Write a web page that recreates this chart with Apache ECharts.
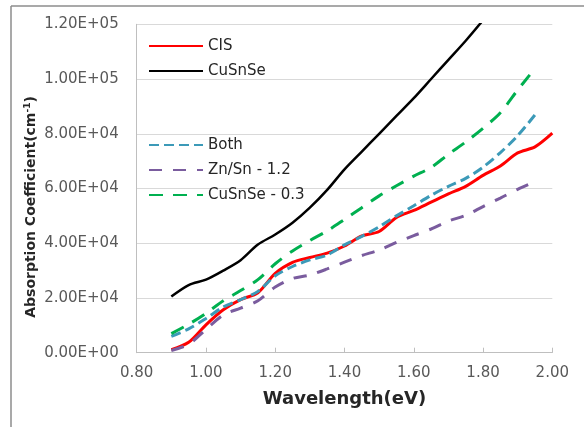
<!DOCTYPE html>
<html><head><meta charset="utf-8">
<script src="https://cdn.jsdelivr.net/npm/echarts@6/dist/echarts.min.js"></script>
<style>html,body{margin:0;padding:0;background:#fff}#c{width:584px;height:427px}</style>
</head><body><div id="c"></div>
<script>
const wavelength = [0.90,0.95,1.00,1.05,1.10,1.15,1.20,1.25,1.30,1.35,1.40,1.45,1.50,1.55,1.60,1.65,1.70,1.75,1.80,1.85,1.90,1.95,2.00];
const cis      = [1100,3800,10200,15700,19400,21900,29000,33000,34800,36400,39000,42700,44300,49400,52000,55000,58000,60800,64800,68200,73000,75200,80200];
const cusnse   = [20500,24700,26700,30000,33800,39500,43200,47500,53000,59500,67000,73500,80000,86500,93000,100000,107000,114000,121500];
const both     = [6000,8700,12500,16700,19400,22400,28100,31500,33900,35700,39400,42500,46000,50000,53700,57500,60800,63700,67800,73100,79300,86900];
const znsn     = [800,3100,8500,13800,16300,19000,24000,27100,28400,30600,33100,35500,37500,40300,42800,45200,48100,50200,53400,56500,59700,62500];
const cusnse03X = [0.90,0.95,1.00,1.05,1.10,1.15,1.20,1.25,1.30,1.35,1.40,1.45,1.50,1.55,1.60,1.65,1.70,1.75,1.80,1.85,1.90,1.935];
const cusnse03 = [7000,10400,14400,19000,22700,26700,32500,37200,41000,44500,48700,53000,57300,61000,64500,67700,72500,77000,82000,87700,96000,101500];
const xTicks = {min:0.8, max:2.0, step:0.2};
const yTicks = {min:0, max:120000, step:20000};

function pairs(xs, ys){ return ys.map((v,i)=>[xs[i], v]); }
function sci(v){
  if (v === 0) return '0.00E+00';
  const s = v.toExponential(2).split('e');
  let e = parseInt(s[1],10);
  const sign = e < 0 ? '-' : '+';
  e = Math.abs(e);
  return s[0] + 'E' + sign + (e<10?'0':'') + e;
}
const FONT = 'DejaVu Sans';
const chart = echarts.init(document.getElementById('c'), null, {renderer:'canvas'});
const mk = (name, data, color, width, type) => ({
  name, type:'line', data, smooth:0.3, symbol:'none', clip:true,
  lineStyle:{color, width, type}, itemStyle:{color}, z: 2
});
const legendCommon = {
  orient:'vertical', left:148, padding:0, itemWidth:54, itemHeight:14, itemGap:7,
  itemStyle:{opacity:0},
  textStyle:{fontFamily:FONT, fontSize:15, color:'#262626', lineHeight:18}
};
chart.setOption({
  animation:false,
  backgroundColor:'#ffffff',
  grid:{left:136.7, right:31.7, top:24.3, bottom:74.3, containLabel:false},
  xAxis:{
    type:'value', min:xTicks.min, max:xTicks.max, interval:xTicks.step,
    name:'Wavelength(eV)', nameLocation:'middle', nameGap:38,
    nameTextStyle:{fontFamily:FONT, fontWeight:'bold', fontSize:18, color:'#262626'},
    axisLine:{show:true, lineStyle:{color:'#BFBFBF', width:1}},
    axisTick:{show:true, inside:true, length:5, lineStyle:{color:'#BFBFBF'}},
    axisLabel:{fontFamily:FONT, fontSize:15, color:'#595959', margin:13, formatter:v=>v.toFixed(2)},
    splitLine:{show:false}
  },
  yAxis:{
    type:'value', min:yTicks.min, max:yTicks.max, interval:yTicks.step,
    axisLine:{show:true, lineStyle:{color:'#BFBFBF', width:1}},
    axisTick:{show:false},
    axisLabel:{fontFamily:FONT, fontSize:15, color:'#595959', margin:18, formatter:sci},
    splitLine:{show:true, lineStyle:{color:'#D9D9D9', width:1}}
  },
  legend:[
    Object.assign({data:['CIS','CuSnSe'], top:37}, legendCommon),
    Object.assign({data:['Both','Zn/Sn - 1.2','CuSnSe - 0.3'], top:136}, legendCommon)
  ],
  graphic:[
    {type:'line', shape:{x1:11, y1:6, x2:11, y2:427}, style:{stroke:'#8C8C8C', lineWidth:1.5}},
    {type:'line', shape:{x1:11, y1:6, x2:584, y2:6}, style:{stroke:'#8C8C8C', lineWidth:1.5}},
    {type:'text', x:31, y:207, rotation:Math.PI/2,
     style:{text:'{b|Absorption Coefficient(cm}{s|-1}{b|)}', align:'center', verticalAlign:'middle',
       rich:{b:{fontFamily:FONT, fontWeight:'bold', fontSize:14, fill:'#262626'},
             s:{fontFamily:FONT, fontWeight:'bold', fontSize:9, fill:'#262626', verticalAlign:'top', padding:[0,0,6,0]}}}}
  ],
  series:[
    mk('CIS', pairs(wavelength, cis), '#FF0000', 3, 'solid'),
    mk('CuSnSe', pairs(wavelength, cusnse), '#000000', 2.5, 'solid'),
    mk('Both', pairs(wavelength, both), '#3C9AB8', 3, [10,5]),
    mk('Zn/Sn - 1.2', pairs(wavelength, znsn), '#7A5C9E', 3, [13,11]),
    mk('CuSnSe - 0.3', pairs(cusnse03X, cusnse03), '#00B050', 3, [14,10])
  ]
});
</script></body></html>
